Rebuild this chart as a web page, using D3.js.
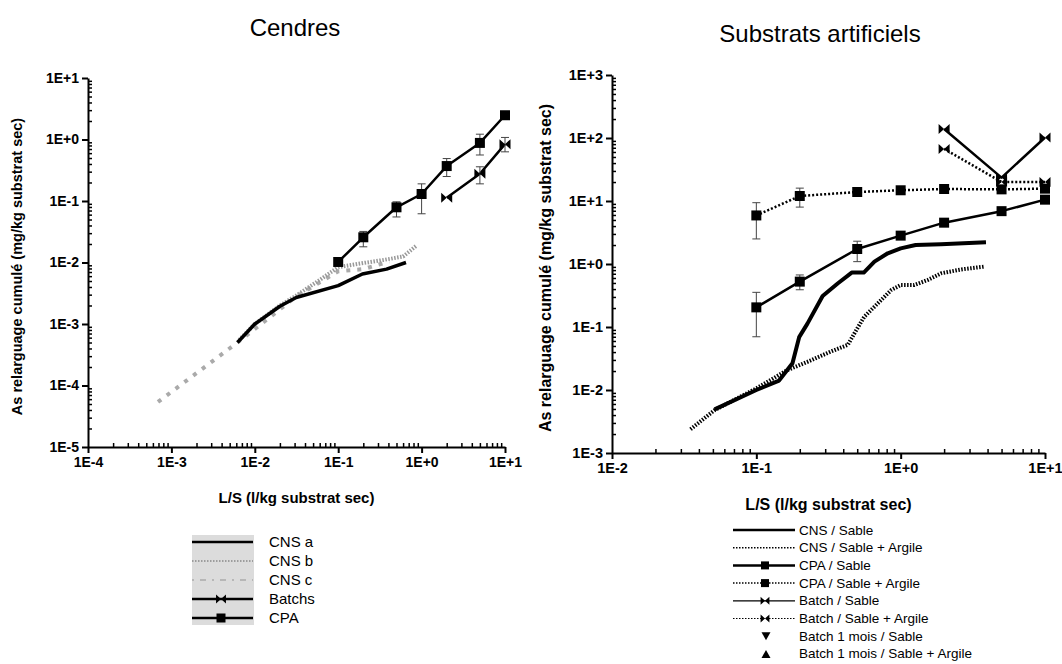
<!DOCTYPE html>
<html><head><meta charset="utf-8">
<script src="https://cdn.jsdelivr.net/npm/d3@7"></script>
<style>
body{margin:0;background:#fff;}
svg{font-family:"Liberation Sans",Arial,sans-serif;}
</style></head>
<body><svg id="c" width="1062" height="664"></svg>
<script>
// ---------- Data: left panel "Cendres" ----------
const cnsA_x = [0.0062, 0.01, 0.02, 0.0314, 0.1, 0.195, 0.38, 0.65];
const cnsA_y = [5.0e-4, 0.001, 0.00194, 0.0027, 0.0042, 0.0065, 0.0078, 0.0100];
const cnsB_x = [0.0065, 0.01, 0.02, 0.0314, 0.06, 0.1, 0.2, 0.35, 0.6, 0.86];
const cnsB_y = [5.5e-4, 0.001, 0.002, 0.0029, 0.0052, 0.0084, 0.0098, 0.011, 0.0125, 0.0186];
const cnsC_x = [0.00069, 0.0062, 0.0314, 0.1, 0.2, 0.41];
const cnsC_y = [5.4e-5, 5.0e-4, 0.0028, 0.0072, 0.0078, 0.0104];
const cpaL_x = [0.1, 0.2, 0.5, 1, 2, 5, 10];
const cpaL_y = [0.0102, 0.0257, 0.079, 0.13, 0.37, 0.88, 2.48];
const cpaL_hi = [null, 0.032, 0.097, 0.19, 0.49, 1.22, null];
const cpaL_lo = [null, 0.018, 0.055, 0.062, 0.25, 0.56, null];
const batL_x = [2, 5, 10];
const batL_y = [0.113, 0.277, 0.84];
const batL_hi = [null, 0.36, 1.08];
const batL_lo = [null, 0.19, 0.63];
const leftXTicks = [1e-4, 1e-3, 1e-2, 1e-1, 1, 10];
const leftYTicks = [1e-5, 1e-4, 1e-3, 1e-2, 1e-1, 1, 10];
const leftLegend = ["CNS a", "CNS b", "CNS c", "Batchs", "CPA"];

// ---------- Data: right panel "Substrats artificiels" ----------
const cnsS_x = [0.0514, 0.1, 0.1437, 0.178, 0.198, 0.226, 0.288, 0.366, 0.458, 0.555, 0.658, 0.814, 1, 1.27, 1.9, 3.9];
const cnsS_y = [0.00493, 0.01, 0.0141, 0.0265, 0.069, 0.113, 0.31, 0.49, 0.73, 0.73, 1.09, 1.48, 1.77, 2.0, 2.05, 2.21];
const cnsSA_x = [0.035, 0.0514, 0.1, 0.164, 0.226, 0.33, 0.43, 0.49, 0.56, 0.658, 0.86, 1.0, 1.24, 1.54, 1.9, 2.63, 3.8];
const cnsSA_y = [0.00238, 0.0048, 0.0106, 0.0207, 0.028, 0.041, 0.052, 0.0875, 0.146, 0.21, 0.386, 0.464, 0.464, 0.557, 0.71, 0.82, 0.91];
const cpaS_x = [0.1, 0.2, 0.5, 1, 2, 5, 10];
const cpaS_y = [0.205, 0.525, 1.73, 2.82, 4.53, 6.9, 10.5];
const cpaS_hi = [0.355, 0.67, 2.3, null, null, null, null];
const cpaS_lo = [0.07, 0.39, 1.09, null, null, null, null];
const cpaSA_x = [0.1, 0.2, 0.5, 1, 2, 5, 10];
const cpaSA_y = [5.9, 12, 13.9, 14.8, 15.5, 15.3, 15.7];
const cpaSA_hi = [9.4, 16, null, null, null, null, null];
const cpaSA_lo = [2.5, 8, null, null, null, null, null];
const batS_x = [2, 5, 10];
const batS_y = [139, 23.5, 102];
const batSA_x = [2, 5, 10];
const batSA_y = [67, 20, 20];
const rightXTicks = [1e-2, 1e-1, 1, 10];
const rightYTicks = [1e-3, 1e-2, 1e-1, 1, 10, 100, 1000];
const rightLegend = ["CNS / Sable", "CNS / Sable + Argile", "CPA / Sable", "CPA / Sable + Argile",
  "Batch / Sable", "Batch / Sable + Argile", "Batch 1 mois / Sable", "Batch 1 mois / Sable + Argile"];

// ---------- helpers ----------
const svg = d3.select("#c");
const fmt = d => { const e = Math.round(Math.log10(d)); return "1E" + (e >= 0 ? "+" : "-") + Math.abs(e); };
function minors(lo, hi) {
  const out = [];
  for (let e = Math.round(Math.log10(lo)); e < Math.round(Math.log10(hi)); e++)
    for (let m = 2; m <= 9; m++) out.push(m * Math.pow(10, e));
  return out;
}
const squarePath = "M-5,-5H5V5H-5Z";
const bowPath = "M-5.5,-5L0,0L-5.5,5ZM5.5,-5L0,0L5.5,5Z";
const zip = (xs, ys) => xs.map((x, i) => [x, ys[i]]);

function panel(opt) {
  const x = d3.scaleLog().domain(opt.xd).range(opt.xr);
  const y = d3.scaleLog().domain(opt.yd).range(opt.yr);
  const g = svg.append("g");
  g.append("g").attr("transform", `translate(0,${opt.yr[0]})`)
    .call(d3.axisBottom(x).tickValues(minors(...opt.xd)).tickSize(-4).tickFormat(""))
    .call(a => a.select(".domain").remove())
    .call(a => a.selectAll("line").attr("stroke-width", 1.5));
  g.append("g").attr("transform", `translate(${opt.xr[0]},0)`)
    .call(d3.axisLeft(y).tickValues(minors(...opt.yd)).tickSize(-4).tickFormat(""))
    .call(a => a.select(".domain").remove())
    .call(a => a.selectAll("line").attr("stroke-width", 1.5));
  g.append("g").attr("transform", `translate(0,${opt.yr[0]})`)
    .call(d3.axisBottom(x).tickValues(opt.xt).tickFormat(fmt).tickSize(6).tickSizeOuter(0).tickPadding(4))
    .call(a => a.select(".domain").attr("stroke-width", 2))
    .call(a => a.selectAll("line").attr("stroke-width", 2))
    .call(a => a.selectAll("text").attr("font-size", opt.tf).attr("font-weight", "bold").attr("fill", "#000")
      .attr("font-family", "Liberation Sans, Arial, sans-serif"));
  g.append("g").attr("transform", `translate(${opt.xr[0]},0)`)
    .call(d3.axisLeft(y).tickValues(opt.yt).tickFormat(fmt).tickSize(6).tickSizeOuter(0).tickPadding(3))
    .call(a => a.select(".domain").attr("stroke-width", 2))
    .call(a => a.selectAll("line").attr("stroke-width", 2))
    .call(a => a.selectAll("text").attr("font-size", opt.tf).attr("font-weight", "bold").attr("fill", "#000")
      .attr("font-family", "Liberation Sans, Arial, sans-serif"));
  g.append("text").attr("x", opt.titleX).attr("y", opt.titleY).attr("text-anchor", "middle")
    .attr("font-size", 24).text(opt.title);
  g.append("text").attr("x", (opt.xr[0] + opt.xr[1]) / 2).attr("y", opt.xtY).attr("text-anchor", "middle")
    .attr("font-size", opt.xtf).attr("font-weight", "bold").text("L/S (l/kg substrat sec)");
  g.append("text").attr("transform", `translate(${opt.ytX},${(opt.yr[0] + opt.yr[1]) / 2 + 4}) rotate(-90)`)
    .attr("text-anchor", "middle").attr("font-size", opt.ytf).attr("font-weight", "bold")
    .text("As relarguage cumulé (mg/kg substrat sec)");
  const line = d3.line().x(d => x(d[0])).y(d => y(d[1]));
  const plot = g.append("g");
  return { x, y, line, plot };
}

function series(p, xs, ys, st, marker, hi, lo) {
  p.plot.append("path").datum(zip(xs, ys)).attr("d", p.line).attr("fill", "none")
    .attr("stroke", st.color || "#000").attr("stroke-width", st.w)
    .attr("stroke-dasharray", st.dash || null).attr("stroke-linejoin", "round");
  if (hi) {
    const eb = p.plot.append("g").attr("stroke", "#444").attr("stroke-width", 1);
    xs.forEach((xv, i) => {
      if (hi[i] == null) return;
      const cx = p.x(xv), y1 = p.y(hi[i]), y2 = p.y(lo[i]);
      eb.append("line").attr("x1", cx).attr("x2", cx).attr("y1", y1).attr("y2", y2);
      eb.append("line").attr("x1", cx - 4).attr("x2", cx + 4).attr("y1", y1).attr("y2", y1);
      eb.append("line").attr("x1", cx - 4).attr("x2", cx + 4).attr("y1", y2).attr("y2", y2);
    });
  }
  if (marker) {
    p.plot.selectAll(null).data(zip(xs, ys)).enter().append("path")
      .attr("d", marker).attr("fill", "#000")
      .attr("transform", d => `translate(${p.x(d[0])},${p.y(d[1])})`);
  }
}

// ---------- Left panel ----------
const L = panel({ xd: [1e-4, 10], xr: [88, 505], yd: [1e-5, 10], yr: [447, 78], xt: leftXTicks, yt: leftYTicks,
  tf: 14, title: "Cendres", titleX: 295, titleY: 36, xtY: 503, xtf: 15, ytX: 22, ytf: 14.5 });
series(L, cnsC_x, cnsC_y, { color: "#aaa", w: 4, dash: "4,7" });
series(L, cnsB_x, cnsB_y, { color: "#999", w: 4, dash: "1.5,1.5" });
series(L, cnsA_x, cnsA_y, { w: 3.5 });
series(L, cpaL_x, cpaL_y, { w: 2.5 }, squarePath, cpaL_hi, cpaL_lo);
series(L, batL_x, batL_y, { w: 2.5 }, bowPath, batL_hi, batL_lo);

// ---------- Right panel ----------
const R = panel({ xd: [1e-2, 10], xr: [612, 1045], yd: [1e-3, 1000], yr: [453, 75], xt: rightXTicks, yt: rightYTicks,
  tf: 14.5, title: "Substrats artificiels", titleX: 820, titleY: 42, xtY: 510, xtf: 16, ytX: 551, ytf: 16 });
series(R, cnsSA_x, cnsSA_y, { w: 4, dash: "1.5,1.5" });
series(R, cnsS_x, cnsS_y, { w: 4 });
series(R, cpaS_x, cpaS_y, { w: 2.5 }, squarePath, cpaS_hi, cpaS_lo);
series(R, cpaSA_x, cpaSA_y, { w: 2.5, dash: "2,2" }, squarePath, cpaSA_hi, cpaSA_lo);
series(R, batS_x, batS_y, { w: 2.5 }, bowPath);
series(R, batSA_x, batSA_y, { w: 2.5, dash: "2,2" }, bowPath);

// ---------- Left legend ----------
const lg = svg.append("g");
lg.append("rect").attr("x", 192).attr("y", 535).attr("width", 62).attr("height", 90).attr("fill", "#dcdcdc");
const lStyles = [
  { color: "#000", w: 2.5, dash: null, m: null },
  { color: "#888", w: 1.5, dash: "1.5,1.5", m: null },
  { color: "#aaa", w: 1.5, dash: "2,6,6,6", m: null },
  { color: "#000", w: 2.5, dash: null, m: bowPath },
  { color: "#000", w: 2.5, dash: null, m: squarePath }
];
leftLegend.forEach((t, i) => {
  const yy = 542 + i * 19;
  const s = lStyles[i];
  lg.append("line").attr("x1", 192).attr("x2", 253).attr("y1", yy).attr("y2", yy)
    .attr("stroke", s.color).attr("stroke-width", s.w).attr("stroke-dasharray", s.dash);
  if (s.m) lg.append("path").attr("d", s.m).attr("transform", `translate(221,${yy}) scale(0.9)`).attr("fill", "#000");
  lg.append("text").attr("x", 269).attr("y", yy + 5).attr("font-size", 15).text(t);
});

// ---------- Right legend ----------
const rg = svg.append("g");
const rStyles = [
  { w: 2.5, dash: null, m: null },
  { w: 1.5, dash: "1.5,1.5", m: null },
  { w: 2.5, dash: null, m: squarePath },
  { w: 1.5, dash: "1.5,1.5", m: squarePath },
  { w: 1.2, dash: null, m: bowPath },
  { w: 1, dash: "1.5,1.5", m: bowPath },
  { tri: "M-4.5,-4H4.5L0,4Z" },
  { tri: "M-4.5,4H4.5L0,-4Z" }
];
rightLegend.forEach((t, i) => {
  const yy = 530 + i * 17.7;
  const s = rStyles[i];
  if (s.tri) {
    rg.append("path").attr("d", s.tri).attr("transform", `translate(766,${yy})`).attr("fill", "#000");
  } else {
    rg.append("line").attr("x1", 733).attr("x2", 795).attr("y1", yy).attr("y2", yy)
      .attr("stroke", "#000").attr("stroke-width", s.w).attr("stroke-dasharray", s.dash);
    if (s.m) rg.append("path").attr("d", s.m).attr("transform", `translate(765,${yy}) scale(0.8)`).attr("fill", "#000");
  }
  rg.append("text").attr("x", 799).attr("y", yy + 4.5).attr("font-size", 13.5).text(t);
});
</script></body></html>
